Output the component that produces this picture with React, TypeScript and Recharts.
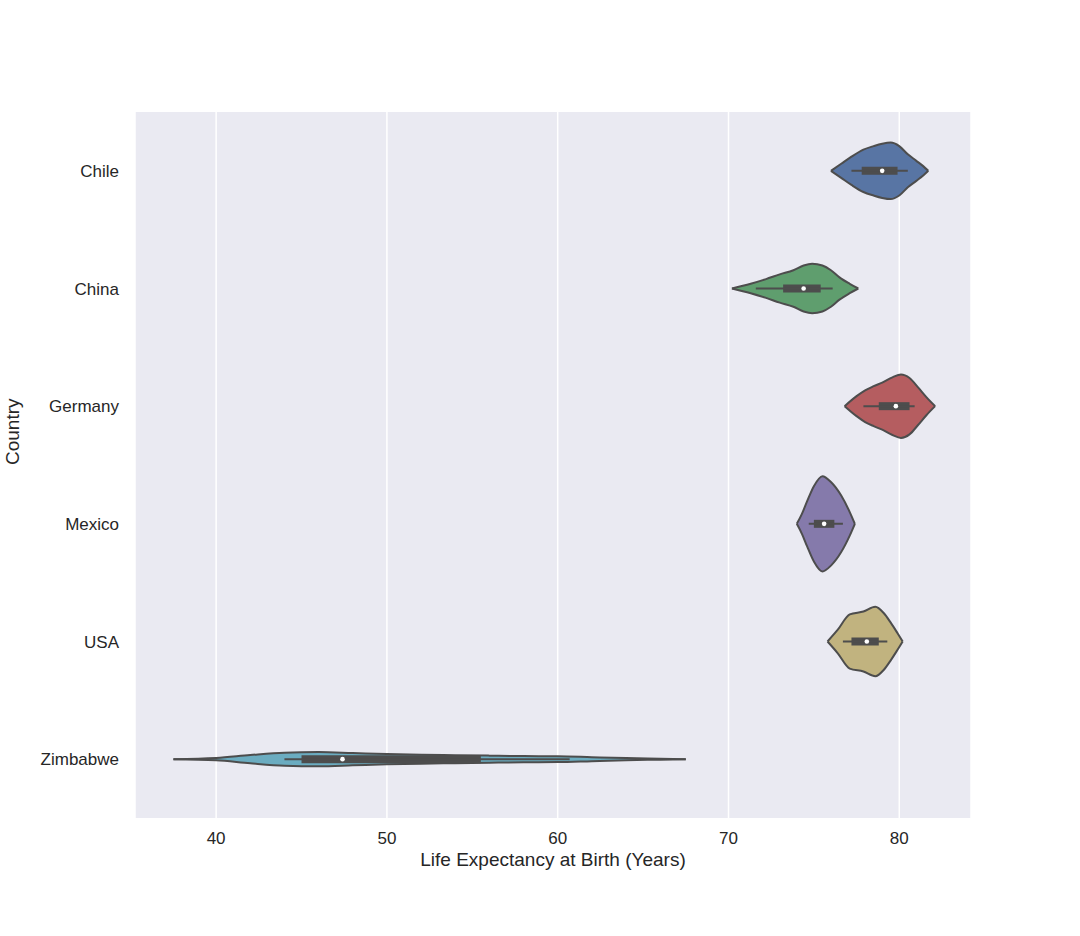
import { Area, CartesianGrid, ComposedChart, Line, Scatter, XAxis, YAxis } from "recharts";

// category order, top to bottom
const countries = ["Chile", "China", "Germany", "Mexico", "USA", "Zimbabwe"];
const colors = ["#5875a4", "#5f9e6e", "#b55d60", "#857aab", "#c1b37f", "#6bacc0"];
const xTicks = [40, 50, 60, 70, 80];

// violin outlines: [life expectancy, half width in category units]
const chileShape = [[76.0, 0], [76.6, 0.06], [77.2, 0.12], [77.9, 0.18], [78.5, 0.21], [79.0, 0.23], [79.5, 0.24], [80.0, 0.21], [80.5, 0.14], [81.0, 0.085], [81.4, 0.04], [81.7, 0]];
const chinaShape = [[70.2, 0], [71.3, 0.04], [72.2, 0.08], [73.0, 0.12], [73.8, 0.155], [74.4, 0.195], [74.9, 0.21], [75.5, 0.195], [76.0, 0.155], [76.5, 0.095], [77.1, 0.04], [77.6, 0]];
const germanyShape = [[76.8, 0], [77.5, 0.085], [78.0, 0.135], [78.5, 0.17], [79.0, 0.2], [79.6, 0.245], [80.1, 0.27], [80.6, 0.24], [81.1, 0.16], [81.6, 0.075], [82.1, 0]];
const mexicoShape = [[74.0, 0], [74.3, 0.085], [74.6, 0.19], [75.0, 0.32], [75.5, 0.405], [76.0, 0.355], [76.6, 0.24], [77.1, 0.1], [77.4, 0]];
const usaShape = [[75.8, 0], [76.4, 0.1], [77.1, 0.23], [77.9, 0.255], [78.6, 0.295], [79.1, 0.24], [79.5, 0.16], [79.9, 0.07], [80.2, 0]];
const zimbabweShape = [[37.5, 0], [40, 0.01], [42, 0.035], [44, 0.055], [46, 0.06], [48, 0.052], [50, 0.043], [52, 0.038], [54, 0.034], [56, 0.03], [58, 0.026], [60, 0.025], [62, 0.017], [64, 0.009], [66, 0.004], [67.5, 0]];
const shapes = [chileShape, chinaShape, germanyShape, mexicoShape, usaShape, zimbabweShape];

// box stats: [whisker low, q1, median, q3, whisker high]
const boxStats = [
  [77.2, 77.8, 79.0, 79.9, 80.5],
  [71.6, 73.2, 74.4, 75.4, 76.1],
  [77.9, 78.8, 79.8, 80.6, 80.9],
  [74.7, 75.0, 75.6, 76.2, 76.7],
  [76.7, 77.2, 78.1, 78.8, 79.3],
  [44.0, 45.0, 47.4, 55.5, 60.7],
];

const outline = "#4d4d4d";
const boxHalf = 0.034;

export default function App() {
  return (
    <div style={{ position: "absolute", left: 0, top: 0, fontFamily: "Liberation Sans, Arial, sans-serif" }}>
      <ComposedChart width={1080} height={936} margin={{ top: 112, right: 109, bottom: 78, left: 0 }}>
        <CartesianGrid fill="#EAEAF2" stroke="#ffffff" strokeWidth={1.5} horizontal={false} />
        <XAxis
          dataKey="x"
          type="number"
          domain={[35.25, 84.2]}
          ticks={xTicks}
          allowDataOverflow
          axisLine={false}
          tickLine={false}
          tickMargin={8}
          height={40}
          tick={{ fill: "#262626", fontSize: 17 }}
          label={{ value: "Life Expectancy at Birth (Years)", position: "insideBottom", offset: -8, fill: "#262626", fontSize: 19 }}
        />
        <YAxis
          type="number"
          domain={[-0.5, 5.5]}
          ticks={[0, 1, 2, 3, 4, 5]}
          reversed
          allowDataOverflow
          width={135}
          axisLine={false}
          tickLine={false}
          tickMargin={10}
          tickFormatter={(v) => countries[v] ?? ""}
          tick={{ fill: "#262626", fontSize: 17 }}
          label={{ value: "Country", angle: -90, position: "insideLeft", offset: 12, fill: "#262626", fontSize: 19 }}
        />
        {shapes.map((shape, i) => (
          <Area
            key={`v-${countries[i]}`}
            data={shape.map(([x, w]) => ({ x, r: [i - w, i + w] }))}
            dataKey="r"
            type="monotone"
            fill={colors[i]}
            fillOpacity={1}
            stroke={outline}
            strokeWidth={2}
            dot={false}
            activeDot={false}
            isAnimationActive={false}
          />
        ))}
        {boxStats.map((b, i) => (
          <Line
            key={`w-${countries[i]}`}
            data={[{ x: b[0], y: i }, { x: b[4], y: i }]}
            dataKey="y"
            type="linear"
            stroke={outline}
            strokeWidth={2}
            dot={false}
            activeDot={false}
            isAnimationActive={false}
          />
        ))}
        {boxStats.map((b, i) => (
          <Area
            key={`b-${countries[i]}`}
            data={[{ x: b[1], r: [i - boxHalf, i + boxHalf] }, { x: b[3], r: [i - boxHalf, i + boxHalf] }]}
            dataKey="r"
            type="linear"
            fill={outline}
            fillOpacity={1}
            stroke="none"
            dot={false}
            activeDot={false}
            isAnimationActive={false}
          />
        ))}
        <Scatter
          data={boxStats.map((b, i) => ({ x: b[2], y: i }))}
          dataKey="y"
          fill="#ffffff"
          shape={(p: any) => <circle cx={p.cx} cy={p.cy} r={2.3} fill="#ffffff" />}
          isAnimationActive={false}
        />
      </ComposedChart>
    </div>
  );
}
